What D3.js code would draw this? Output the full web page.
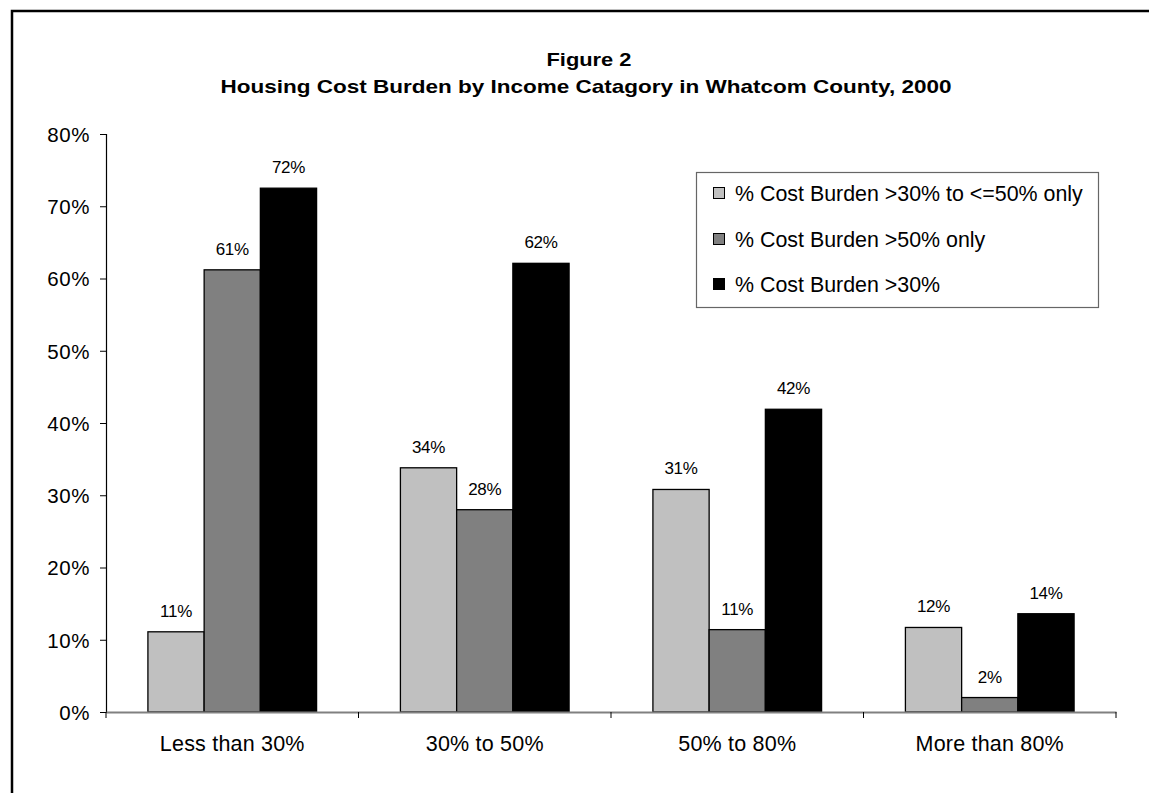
<!DOCTYPE html>
<html>
<head>
<meta charset="utf-8">
<script src="https://cdn.jsdelivr.net/npm/d3@7"></script>
<style>
  html, body { margin: 0; padding: 0; background: #fff; overflow: hidden; }
  svg { display: block; font-family: "Liberation Sans", Arial, sans-serif; }
</style>
</head>
<body>
<svg id="chart" width="1149" height="793"></svg>
<script>
const categories = ["Less than 30%", "30% to 50%", "50% to 80%", "More than 80%"];
const seriesNames = ["% Cost Burden >30% to <=50% only", "% Cost Burden >50% only", "% Cost Burden >30%"];
const burden30to50 = [11.1, 33.8, 30.8, 11.7];
const burden50 = [61.2, 28.0, 11.4, 2.0];
const burden30 = [72.5, 62.1, 41.9, 13.6];
const dataLabels30to50 = ["11%", "34%", "31%", "12%"];
const dataLabels50 = ["61%", "28%", "11%", "2%"];
const dataLabels30 = ["72%", "62%", "42%", "14%"];
const yTicks = [0, 10, 20, 30, 40, 50, 60, 70, 80];
const seriesColors = ["#c0c0c0", "#808080", "#000000"];
const titleLine1 = "Figure 2";
const titleLine2 = "Housing Cost Burden by Income Catagory in Whatcom County, 2000";

const seriesValues = [burden30to50, burden50, burden30];
const seriesLabels = [dataLabels30to50, dataLabels50, dataLabels30];

const svg = d3.select("#chart");

// outer chart border (cropped on right/bottom)
svg.append("rect")
  .attr("x", 12).attr("y", 11)
  .attr("width", 1300).attr("height", 900)
  .attr("fill", "#fff").attr("stroke", "#000").attr("stroke-width", 2.5);

// titles
svg.append("text")
  .attr("x", 589).attr("y", 66)
  .attr("text-anchor", "middle")
  .attr("font-weight", "bold").attr("font-size", 19)
  .attr("textLength", 85).attr("lengthAdjust", "spacingAndGlyphs")
  .text(titleLine1);
svg.append("text")
  .attr("x", 586).attr("y", 93)
  .attr("text-anchor", "middle")
  .attr("font-weight", "bold").attr("font-size", 19)
  .attr("textLength", 731).attr("lengthAdjust", "spacingAndGlyphs")
  .text(titleLine2);

const plotLeft = 106, plotRight = 1116, plotTop = 134, plotBottom = 712;

const y = d3.scaleLinear().domain([0, 80]).range([plotBottom, plotTop]);
const x0 = d3.scaleBand().domain(categories).range([plotLeft, plotRight]).paddingInner(0).paddingOuter(0);
const bw = x0.bandwidth();
const gapHalf = bw * 0.166;
const x1 = d3.scaleBand().domain(d3.range(seriesValues.length)).range([gapHalf, bw - gapHalf]).padding(0);

// bars
seriesValues.forEach((vals, s) => {
  const g = svg.append("g");
  g.selectAll("rect").data(vals).join("rect")
    .attr("x", (d, i) => x0(categories[i]) + x1(s))
    .attr("y", d => y(d))
    .attr("width", x1.bandwidth())
    .attr("height", d => y(0) - y(d))
    .attr("fill", seriesColors[s])
    .attr("stroke", "#000").attr("stroke-width", 1.3);
  g.selectAll("text").data(vals).join("text")
    .attr("x", (d, i) => x0(categories[i]) + x1(s) + x1.bandwidth() / 2)
    .attr("y", d => y(d) - 15)
    .attr("text-anchor", "middle")
    .attr("font-size", 17)
    .attr("letter-spacing", -0.3)
    .attr("fill", "#000")
    .text((d, i) => seriesLabels[s][i]);
});

// y axis
const yAxis = d3.axisLeft(y).tickValues(yTicks).tickFormat(d => d + "%").tickSize(6).tickPadding(10);
const yg = svg.append("g").attr("transform", `translate(${plotLeft},0)`).call(yAxis);
yg.select(".domain").attr("stroke", "#000").attr("stroke-width", 1.2);
yg.selectAll(".tick line").attr("stroke", "#000");
yg.selectAll(".tick text")
  .attr("font-size", 20.5)
  .attr("letter-spacing", 0.6)
  .attr("font-family", "Liberation Sans, Arial, sans-serif")
  .attr("fill", "#000").attr("dy", "0.36em");

// x axis
const xAxis = d3.axisBottom(x0).tickSize(0).tickPadding(0).tickFormat("");
const xg = svg.append("g").attr("transform", `translate(0,${plotBottom})`).call(xAxis);
xg.select(".domain").attr("stroke", "#808080").attr("stroke-width", 2);
const boundaries = [plotLeft].concat(categories.map(c => x0(c) + bw));
xg.selectAll(".bound").data(boundaries).join("line")
  .attr("class", "bound")
  .attr("x1", d => d).attr("x2", d => d)
  .attr("y1", 0).attr("y2", 6)
  .attr("stroke", "#000").attr("stroke-width", 1);
xg.selectAll(".cat").data(categories).join("text")
  .attr("class", "cat")
  .attr("x", d => x0(d) + bw / 2)
  .attr("y", 39)
  .attr("text-anchor", "middle")
  .attr("font-size", 21.5)
  .attr("letter-spacing", 0.2)
  .attr("fill", "#000")
  .text(d => d);

// legend
const legend = svg.append("g");
legend.append("rect")
  .attr("x", 696.5).attr("y", 172.5).attr("width", 402).attr("height", 135)
  .attr("fill", "#fff").attr("stroke", "#666").attr("stroke-width", 1.2);
const rowY = [193, 239, 284];
seriesNames.forEach((name, s) => {
  legend.append("rect")
    .attr("x", 713.5).attr("y", rowY[s] - 5.5).attr("width", 11).attr("height", 11)
    .attr("fill", seriesColors[s]).attr("stroke", "#000").attr("stroke-width", 1);
  legend.append("text")
    .attr("x", 735).attr("y", rowY[s] + 7.5)
    .attr("font-size", 21.4).attr("fill", "#000")
    .text(name);
});
</script>
</body>
</html>
